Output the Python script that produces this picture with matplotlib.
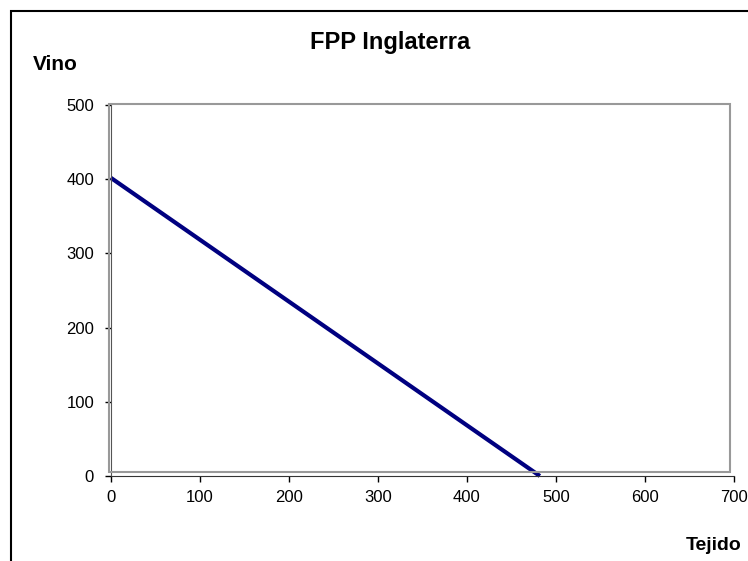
import matplotlib
matplotlib.use("Agg")
import matplotlib.pyplot as plt
from matplotlib.patches import Rectangle

plt.rcParams['font.family'] = ['Liberation Sans', 'DejaVu Sans']

# Frontera de posibilidades de produccion (Inglaterra)
tejido = [0, 482]
vino = [402, 0]
x_ticks = [0, 100, 200, 300, 400, 500, 600, 700]
y_ticks = [0, 100, 200, 300, 400, 500]

W, H = 748, 561
fig = plt.figure(figsize=(W / 100, H / 100), dpi=100)

# borde exterior del grafico
fig.patches.append(Rectangle((10.5 / W, -0.1), 2, 1 - 10.5 / H + 0.1, transform=fig.transFigure,
                             fill=False, edgecolor='black', linewidth=1.5))

ax = fig.add_axes([110.7 / W, 1 - 476 / H, (734 - 110.7) / W, (476 - 105) / H])

# area de trazado gris
fig.patches.append(Rectangle((109 / W, 1 - 472 / H), (730 - 109) / W, (472 - 104) / H,
                             transform=fig.transFigure, fill=False, edgecolor='#999999',
                             linewidth=1.5, zorder=0))

ax.plot(tejido, vino, color='#000080', linewidth=3, solid_capstyle='butt', clip_on=False)

ax.set_xlim(0, 700)
ax.set_ylim(0, 500)
ax.set_xticks(x_ticks)
ax.set_yticks(y_ticks)
ax.tick_params(axis='x', direction='out', length=4, width=1, labelsize=12, pad=6)
ax.tick_params(axis='y', direction='out', length=4, width=1, labelsize=12, pad=8)
for s in ('top', 'right'):
    ax.spines[s].set_visible(False)
ax.spines['left'].set_color('#555555')
ax.spines['bottom'].set_color('#333333')
ax.patch.set_alpha(0)

fig.text(390 / W, 1 - 42 / H, 'FPP Inglaterra', ha='center', va='center', fontsize=17, fontweight='bold')
fig.text(33 / W, 1 - 65 / H, 'Vino', ha='left', va='center', fontsize=15, fontweight='bold')
fig.text(742 / W, 1 - 546 / H, 'Tejido', ha='right', va='center', fontsize=14, fontweight='bold')

fig.savefig('out.png', dpi=100)
